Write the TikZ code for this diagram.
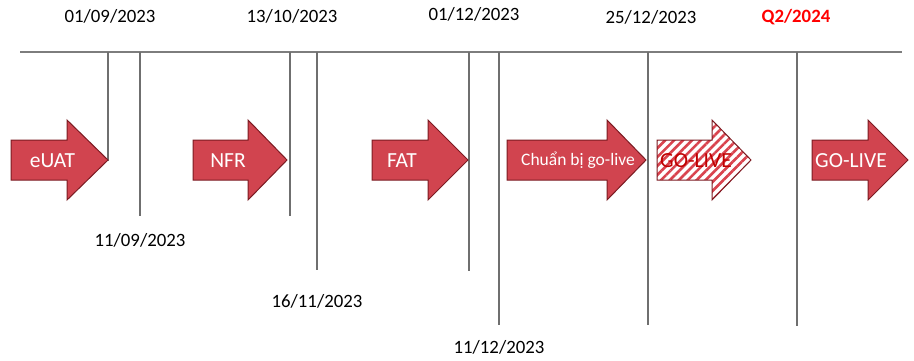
\documentclass[tikz,border=0pt]{standalone}
\usepackage{fontspec}
\setmainfont{Carlito}
\usetikzlibrary{patterns.meta}
\definecolor{arrfill}{HTML}{D1444F}
\definecolor{arrdraw}{HTML}{7B1B22}
\definecolor{linegray}{HTML}{6F6F6F}
\definecolor{hatchred}{HTML}{D9434E}
\definecolor{hatchtext}{HTML}{C00000}
\newcommand\myarrow[4]{\path[#4] (#1,140) -- (#2,140) -- (#2,120) -- (#3,160) -- (#2,200) -- (#2,180) -- (#1,180) -- cycle;}
\begin{document}
\begin{tikzpicture}[x=1pt,y=-1pt,
  vline/.style={draw=linegray,line width=1.8pt},
  hline/.style={draw=linegray!90,line width=2.6pt},
  datelbl/.style={font=\fontsize{18.8}{21}\selectfont,text=black},
  arrstyle/.style={fill=arrfill,draw=arrdraw,line width=1pt},
  arrtext/.style={font=\fontsize{21.5}{24}\selectfont,text=white},
]
\useasboundingbox (0,0) rectangle (914,360);
% timeline
\coordinate (L0) at (20,52);
\coordinate (L1) at (902,52);
\draw[hline] (L0) -- (L1);
% vertical ticks
\foreach \x/\b [count=\i] in {108/161,140/216,290/216,317/270,469/271,499/325,648/325,797/326}{
  \coordinate (t\i) at (\x,52);
  \coordinate (b\i) at (\x,\b);
  \draw[vline] (t\i) -- (b\i);
}
% arrows
\myarrow{11}{67}{108}{arrstyle}
\myarrow{193}{248}{287}{arrstyle}
\myarrow{372}{428}{468}{arrstyle}
\myarrow{507}{607}{646}{arrstyle}
\myarrow{657}{712}{751}{fill=white}
\myarrow{657}{712}{751}{pattern={Lines[angle=45,distance=6.3pt,line width=2.6pt]},pattern color=hatchred}
\myarrow{657}{712}{751}{draw=arrdraw,line width=1pt}
\myarrow{812}{868}{908}{arrstyle}
% arrow labels
\node[arrtext] (a1) at (52.5,161) {eUAT};
\node[arrtext] (a2) at (228,161) {NFR};
\node[arrtext] (a3) at (402,161) {FAT};
\node[arrtext,font=\fontsize{17.5}{20}\selectfont] (a4) at (578,160) {Chuẩn bị go-live};
\node[arrtext,text=hatchtext] (a5) at (696,161) {GO-LIVE};
\node[arrtext] (a6) at (851,161) {GO-LIVE};
% top dates
\node[datelbl] (d1) at (110,16) {01/09/2023};
\node[datelbl] (d2) at (292,16) {13/10/2023};
\node[datelbl] (d3) at (474,14) {01/12/2023};
\node[datelbl] (d4) at (651,17) {25/12/2023};
\node[datelbl,text={rgb,255:red,255;green,0;blue,0},font=\fontsize{18.8}{21}\selectfont\bfseries] (d5) at (796,17) {Q2/2024};
% bottom dates
\node[datelbl] (e1) at (140,240) {11/09/2023};
\node[datelbl] (e2) at (317,301) {16/11/2023};
\node[datelbl] (e3) at (499,347) {11/12/2023};
\end{tikzpicture}
\end{document}
